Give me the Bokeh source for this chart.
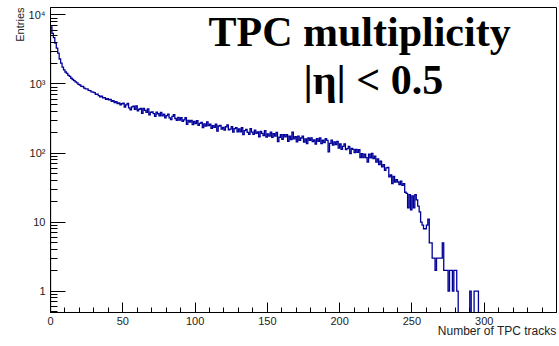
import numpy as np
from bokeh.plotting import figure
from bokeh.models import Range1d, FixedTicker, Label, Title
from bokeh.embed import file_html
from bokeh.resources import INLINE

# ---- data: entries per bin (bin width 1 track), bins 0..299 ----
counts = [
    6700, 5400, 4700, 3900, 3300, 2800, 2300, 2000, 1750, 1600,
    1490, 1420, 1330, 1290, 1210, 1160, 1120, 1070, 1040, 985,
    965, 921, 918, 868, 850, 846, 806, 800, 770, 762,
    748, 705, 712, 676, 650, 667, 628, 633, 598, 612,
    590, 598, 560, 571, 538, 556, 520, 530, 498, 517,
    527, 462, 498, 523, 449, 421, 465, 477, 427, 480,
    408, 430, 442, 374, 442, 414, 388, 437, 356, 389,
    395, 372, 340, 391, 370, 345, 388, 346, 365, 323,
    348, 364, 322, 304, 339, 358, 316, 296, 329, 300,
    326, 287, 301, 324, 260, 297, 280, 296, 257, 286,
    267, 294, 252, 268, 277, 234, 264, 245, 283, 249,
    261, 228, 250, 235, 261, 208, 246, 251, 221, 234,
    214, 240, 255, 217, 222, 240, 200, 226, 232, 202,
    223, 202, 232, 185, 211, 219, 199, 186, 225, 201,
    186, 214, 192, 202, 172, 205, 193, 178, 211, 170,
    189, 175, 200, 168, 191, 175, 198, 146, 169, 184,
    158, 185, 171, 185, 148, 175, 157, 200, 160, 172,
    145, 175, 152, 165, 175, 144, 160, 137, 165, 152,
    166, 146, 155, 135, 161, 147, 166, 137, 154, 141,
    162, 152, 104, 138, 154, 130, 145, 132, 147, 118,
    135, 113, 125, 135, 112, 116, 125, 98, 117, 113,
    101, 113, 102, 112, 86, 98, 86, 96, 86, 74,
    96, 85, 99, 83, 90, 74, 82, 68, 76, 63,
    68, 56, 61, 62, 45, 48, 36, 46, 38, 41,
    38, 35, 39, 34, 36, 27, 26, 16, 25, 15,
    24, 16, 25, 21, 17, 14, 10, 9, 8, 8,
    9, 11, 5, 5, 3, 3, 2, 3, 3, 3,
    3, 5, 2, 2, 2, 1, 2, 2, 1, 2,
    2, 1, 0, 0, 0, 0, 0, 0, 0, 0,
    1, 0, 0, 1, 1, 1, 0, 0, 0, 0,
]
bin_width = 1
x_major_ticks = [0, 50, 100, 150, 200, 250, 300]
x_minor_ticks = list(range(0, 351, 10))
y_major_ticks = [1, 10, 100, 1000, 10000]
y_tick_labels = ["1", "10", "10\u00b2", "10\u00b3", "10\u2074"]
title_line1 = "TPC multiplicity"
title_line2 = "|\u03b7| < 0.5"
x_title = "Number of TPC tracks"
y_title = "Entries"

# ---- build step outline (ROOT-like histogram) ----
floor = 0.05  # zero bins drop below the visible range
c = np.array(counts, dtype=float)
vals = np.where(c > 0, c, floor)
edges = np.arange(len(counts) + 1) * bin_width
xs = np.concatenate([[edges[0]], np.repeat(edges, 2)[1:-1], [edges[-1]]])
ys = np.concatenate([[floor], np.repeat(vals, 2), [floor]])

p = figure(width=559, height=346, y_axis_type="log",
           x_range=Range1d(0, 350), y_range=Range1d(0.49, 12800),
           output_backend="svg", toolbar_location=None,
           min_border_left=50, min_border_right=3,
           min_border_top=7, min_border_bottom=34)
p.background_fill_color = "white"
p.border_fill_color = "white"
p.outline_line_color = "black"
p.outline_line_width = 1
p.xgrid.visible = False
p.ygrid.visible = False

p.line(xs, ys, line_color="#000099", line_width=1.3, line_join="miter")

# axes
font = "Liberation Sans"
p.xaxis.ticker = FixedTicker(ticks=x_major_ticks, minor_ticks=x_minor_ticks)
p.xaxis.major_tick_in = 10
p.xaxis.major_tick_out = 0
p.xaxis.minor_tick_in = 5
p.xaxis.minor_tick_out = 0
p.xaxis.major_label_standoff = 4
minor_y = [m * 10.0 ** k for k in range(-1, 5) for m in range(2, 10)]
p.yaxis.ticker = FixedTicker(ticks=y_major_ticks, minor_ticks=minor_y)
p.yaxis.major_label_overrides = {t: l for t, l in zip(y_major_ticks, y_tick_labels)}
p.yaxis.major_tick_in = 15
p.yaxis.major_tick_out = 0
p.yaxis.minor_tick_in = 7
p.yaxis.minor_tick_out = 0
p.yaxis.major_label_standoff = 5
for ax in (p.xaxis[0], p.yaxis[0]):
    ax.axis_line_color = "black"
    ax.major_tick_line_color = "black"
    ax.minor_tick_line_color = "black"
    ax.major_label_text_font = font
    ax.major_label_text_font_size = "11px"
    ax.major_label_text_color = "#222222"

# axis titles (ROOT style: aligned at the end of the axis)
p.add_layout(Title(text=x_title, align="right", standoff=-11, offset=0,
                   text_font=font, text_font_size="12px",
                   text_font_style="normal", text_color="#222222"), "below")
p.add_layout(Title(text=y_title, align="right", standoff=0, offset=0,
                   text_font=font, text_font_size="11px",
                   text_font_style="normal", text_color="#222222"), "left")

# big titles
p.add_layout(Label(x=158, y=281, x_units="screen", y_units="screen",
                   text=title_line1, text_align="left", text_baseline="alphabetic",
                   text_font="Liberation Serif", text_font_style="bold",
                   text_font_size="42px", text_color="black"))
p.add_layout(Label(x=253, y=233, x_units="screen", y_units="screen",
                   text=title_line2, text_align="left", text_baseline="alphabetic",
                   text_font="Liberation Serif", text_font_style="bold",
                   text_font_size="42px", text_color="black"))

open("out.html", "w").write(file_html(p, INLINE))
